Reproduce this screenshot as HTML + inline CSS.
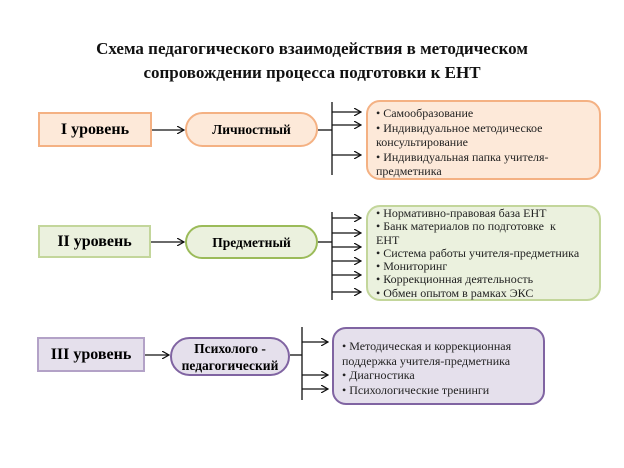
<!DOCTYPE html>
<html><head><meta charset="utf-8"><style>
body{margin:0;width:624px;height:468px;background:#fff;position:relative;overflow:hidden;font-family:"Liberation Serif",serif;}
.a{position:absolute;box-sizing:border-box;}
.t{left:0;width:624px;top:37px;text-align:center;font-weight:bold;font-size:17px;line-height:24px;color:#111;}
.lv{display:flex;align-items:center;justify-content:center;font-weight:bold;font-size:16px;border:2px solid;}
.pill{display:flex;align-items:center;justify-content:center;text-align:center;font-weight:bold;font-size:13.5px;border:2px solid;border-radius:20px;line-height:17px;}
.c{border:2px solid;border-radius:14px;font-size:12px;line-height:14.5px;padding:2px 6px 0 8px;color:#222;}
</style></head><body>
<div class="a t">Схема педагогического взаимодействия в методическом<br>сопровождении процесса подготовки к ЕНТ</div>
<svg class="a" style="left:0;top:0" width="624" height="468">
<defs><marker id="m" markerWidth="8" markerHeight="8" refX="7" refY="4" orient="auto" markerUnits="userSpaceOnUse"><path d="M0,0 L7,4 L0,8" fill="none" stroke="#111" stroke-width="1.2"/></marker></defs>
<g stroke="#111" stroke-width="1.3" fill="none">
<line x1="152" y1="130" x2="184" y2="130" marker-end="url(#m)"/>
<line x1="318" y1="130" x2="332" y2="130"/>
<line x1="332" y1="102" x2="332" y2="175"/>
<line x1="332" y1="112" x2="361" y2="112" marker-end="url(#m)"/>
<line x1="332" y1="125" x2="361" y2="125" marker-end="url(#m)"/>
<line x1="332" y1="155" x2="361" y2="155" marker-end="url(#m)"/>
<line x1="151" y1="242" x2="184" y2="242" marker-end="url(#m)"/>
<line x1="318" y1="242" x2="332" y2="242"/>
<line x1="332" y1="212" x2="332" y2="300"/>
<line x1="332" y1="218" x2="361" y2="218" marker-end="url(#m)"/>
<line x1="332" y1="233" x2="361" y2="233" marker-end="url(#m)"/>
<line x1="332" y1="247" x2="361" y2="247" marker-end="url(#m)"/>
<line x1="332" y1="261" x2="361" y2="261" marker-end="url(#m)"/>
<line x1="332" y1="275" x2="361" y2="275" marker-end="url(#m)"/>
<line x1="332" y1="292" x2="361" y2="292" marker-end="url(#m)"/>
<line x1="145" y1="355" x2="169" y2="355" marker-end="url(#m)"/>
<line x1="290" y1="355" x2="302" y2="355"/>
<line x1="302" y1="327" x2="302" y2="400"/>
<line x1="302" y1="342" x2="328" y2="342" marker-end="url(#m)"/>
<line x1="302" y1="375" x2="328" y2="375" marker-end="url(#m)"/>
<line x1="302" y1="389" x2="328" y2="389" marker-end="url(#m)"/>
</g></svg>
<div class="a lv" style="left:38px;top:112px;width:114px;height:35px;background:#fde9d9;border-color:#f4b183">I уровень</div>
<div class="a pill" style="left:185px;top:112px;width:133px;height:35px;background:#fde9d9;border-color:#f4b183">Личностный</div>
<div class="a c" style="left:366px;top:100px;width:235px;height:80px;background:#fde9d9;border-color:#f4b183;padding-top:4px">• Самообразование<br>• Индивидуальное методическое консультирование<br>• Индивидуальная папка учителя-предметника</div>
<div class="a lv" style="left:38px;top:225px;width:113px;height:33px;background:#ebf1de;border-color:#c3d69b">II уровень</div>
<div class="a pill" style="left:185px;top:225px;width:133px;height:34px;background:#ebf1de;border-color:#9bbb59">Предметный</div>
<div class="a c" style="left:366px;top:205px;width:235px;height:96px;background:#ebf1de;border-color:#c3d69b;line-height:13.3px;padding-top:0">• Нормативно-правовая база ЕНТ<br>• Банк материалов по подготовке&nbsp; к<br>ЕНТ<br>• Система работы учителя-предметника<br>• Мониторинг<br>• Коррекционная деятельность<br>• Обмен опытом в рамках ЭКС</div>
<div class="a lv" style="left:37px;top:337px;width:108px;height:35px;background:#e5e0ec;border-color:#b3a2c7">III уровень</div>
<div class="a pill" style="left:170px;top:337px;width:120px;height:39px;background:#e5e0ec;border-color:#8064a2">Психолого -<br>педагогический</div>
<div class="a c" style="left:332px;top:327px;width:213px;height:78px;background:#e5e0ec;border-color:#8064a2;padding-top:10px">• Методическая и коррекционная поддержка учителя-предметника<br>• Диагностика<br>• Психологические тренинги</div>
</body></html>
